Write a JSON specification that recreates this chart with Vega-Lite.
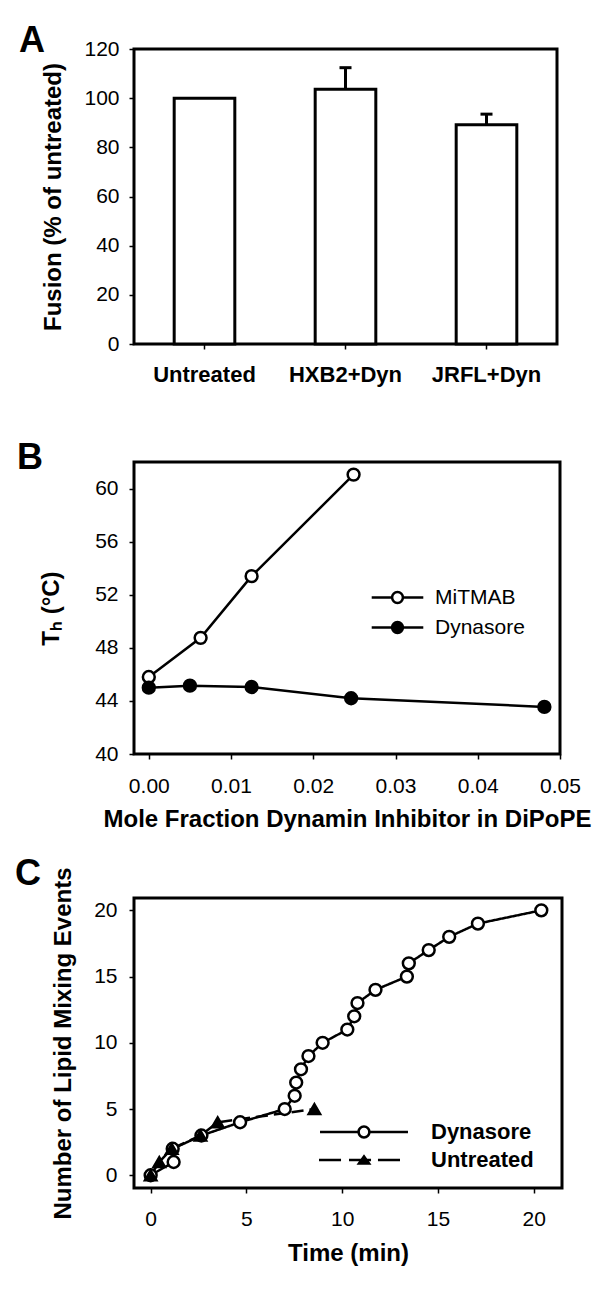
{
  "$schema": "https://vega.github.io/schema/vega-lite/v6.json",
  "background": "white",
  "padding": {"left": 13, "top": 21, "right": 0, "bottom": 0},
  "spacing": 51,
  "resolve": {
    "scale": {"fill": "independent", "shape": "independent", "strokeDash": "independent"},
    "legend": {"fill": "independent", "shape": "independent", "strokeDash": "independent"}
  },
  "config": {
    "font": "Liberation Sans",
    "view": {"stroke": "black", "strokeWidth": 3, "fill": "white"},
    "axis": {
      "domain": false, "grid": false,
      "ticks": true, "tickColor": "black", "tickWidth": 1.5, "tickSize": 5,
      "labelColor": "black", "labelFont": "Liberation Sans", "labelFontSize": 21,
      "labelFlush": false, "labelOverlap": false,
      "titleColor": "black", "titleFont": "Liberation Sans", "titleFontSize": 24, "titleFontWeight": "bold"
    },
    "title": {"font": "Liberation Sans", "fontSize": 36, "fontWeight": "bold", "color": "black", "anchor": "start", "frame": "group", "baseline": "alphabetic"},
    "legend": {"labelColor": "black", "labelFont": "Liberation Sans", "padding": 0}
  },
  "datasets": {
    "fusion": [
      {"condition": "Untreated", "fusion": 100, "upper": null},
      {"condition": "HXB2+Dyn", "fusion": 103.6, "upper": 112.4},
      {"condition": "JRFL+Dyn", "fusion": 89.2, "upper": 93.5}
    ],
    "th": [
      {"series": "MiTMAB", "fraction": 0, "th": 45.8},
      {"series": "MiTMAB", "fraction": 0.0063, "th": 48.75},
      {"series": "MiTMAB", "fraction": 0.0125, "th": 53.4},
      {"series": "MiTMAB", "fraction": 0.0249, "th": 61.05},
      {"series": "Dynasore", "fraction": 0, "th": 45.0},
      {"series": "Dynasore", "fraction": 0.005, "th": 45.15},
      {"series": "Dynasore", "fraction": 0.0125, "th": 45.05},
      {"series": "Dynasore", "fraction": 0.0246, "th": 44.2},
      {"series": "Dynasore", "fraction": 0.0481, "th": 43.55}
    ],
    "lipid": [
      {"series": "Dynasore", "time": 0, "events": 0},
      {"series": "Dynasore", "time": 1.2, "events": 1},
      {"series": "Dynasore", "time": 1.15, "events": 2},
      {"series": "Dynasore", "time": 2.65, "events": 3},
      {"series": "Dynasore", "time": 4.67, "events": 4},
      {"series": "Dynasore", "time": 7.0, "events": 5},
      {"series": "Dynasore", "time": 7.52, "events": 6},
      {"series": "Dynasore", "time": 7.6, "events": 7},
      {"series": "Dynasore", "time": 7.85, "events": 8},
      {"series": "Dynasore", "time": 8.24, "events": 9},
      {"series": "Dynasore", "time": 8.98, "events": 10},
      {"series": "Dynasore", "time": 10.27, "events": 11},
      {"series": "Dynasore", "time": 10.63, "events": 12},
      {"series": "Dynasore", "time": 10.8, "events": 13},
      {"series": "Dynasore", "time": 11.74, "events": 14},
      {"series": "Dynasore", "time": 13.38, "events": 15},
      {"series": "Dynasore", "time": 13.48, "events": 16},
      {"series": "Dynasore", "time": 14.52, "events": 17},
      {"series": "Dynasore", "time": 15.59, "events": 18},
      {"series": "Dynasore", "time": 17.09, "events": 19},
      {"series": "Dynasore", "time": 20.4, "events": 20},
      {"series": "Untreated", "time": 0, "events": 0},
      {"series": "Untreated", "time": 0.45, "events": 1},
      {"series": "Untreated", "time": 1.1, "events": 2},
      {"series": "Untreated", "time": 2.6, "events": 3},
      {"series": "Untreated", "time": 3.5, "events": 4},
      {"series": "Untreated", "time": 8.55, "events": 5}
    ]
  },
  "vconcat": [
    {
      "width": 423, "height": 295,
      "title": {"text": "A", "dx": -115, "offset": -22},
      "data": {"name": "fusion"},
      "encoding": {
        "x": {"field": "condition", "type": "nominal", "sort": null,
          "scale": {"paddingInner": 0.57, "paddingOuter": 0.285},
          "axis": {"title": null, "labelAngle": 0, "labelFontWeight": "bold", "labelFontSize": 22, "labelPadding": 15}},
        "y": {"field": "fusion", "type": "quantitative", "title": "Fusion (%  of untreated)",
          "scale": {"domain": [0, 120], "nice": false},
          "axis": {"values": [0, 20, 40, 60, 80, 100, 120], "labelPadding": 10, "titlePadding": 18}}
      },
      "layer": [
        {"mark": {"type": "bar", "fill": "white", "stroke": "black", "strokeWidth": 3}},
        {"transform": [{"filter": "datum.upper != null"}],
         "mark": {"type": "rule", "stroke": "black", "strokeWidth": 3},
         "encoding": {"y2": {"field": "upper"}}},
        {"transform": [{"filter": "datum.upper != null"}],
         "mark": {"type": "tick", "color": "black", "thickness": 3, "size": 12, "opacity": 1},
         "encoding": {"y": {"field": "upper", "type": "quantitative", "title": "Fusion (%  of untreated)"}}}
      ]
    },
    {
      "spacing": 21,
      "resolve": {
        "scale": {"fill": "independent", "shape": "independent", "strokeDash": "independent"},
        "legend": {"fill": "independent", "shape": "independent", "strokeDash": "independent"}
      },
      "vconcat": [
        {
          "width": 426, "height": 292,
          "title": {"text": "B", "dx": -117, "offset": -15},
          "data": {"name": "th"},
          "encoding": {
            "x": {"field": "fraction", "type": "quantitative",
              "scale": {"domain": [-0.0018, 0.05], "nice": false, "zero": false},
              "axis": {"values": [0, 0.01, 0.02, 0.03, 0.04, 0.05], "format": ".2f", "title": "Mole Fraction Dynamin Inhibitor in DiPoPE", "labelPadding": 16, "titlePadding": 11}},
            "y": {"field": "th", "type": "quantitative",
              "scale": {"domain": [40, 62], "nice": false, "zero": false},
              "axis": {"values": [40, 44, 48, 52, 56, 60], "title": "Tₕ (°C)", "labelPadding": 11, "titlePadding": 31}}
          },
          "layer": [
            {"mark": {"type": "line", "stroke": "black", "strokeWidth": 2.5},
             "encoding": {"detail": {"field": "series"}}},
            {"mark": {"type": "point", "shape": "circle", "filled": true, "size": 140, "stroke": "black", "strokeWidth": 2.5, "opacity": 1},
             "encoding": {"fill": {"field": "series", "type": "nominal",
               "scale": {"domain": ["MiTMAB", "Dynasore"], "range": ["white", "black"]},
               "legend": {"title": null, "orient": "none", "legendX": 253, "legendY": 125,
                 "symbolType": "M-4.3 0L-0.9 0M0.9 0L4.3 0M0.9 0A0.9 0.9 0 1 1 -0.9 0A0.9 0.9 0 1 1 0.9 0Z",
                 "symbolSize": 144, "symbolStrokeColor": "black", "symbolStrokeWidth": 2.5,
                 "labelFontSize": 21, "labelOffset": 27, "rowPadding": 8}}}}
          ]
        },
        {
          "width": 428, "height": 290,
          "title": {"text": "C", "dx": -119, "offset": -26},
          "data": {"name": "lipid"},
          "resolve": {
            "scale": {"fill": "independent", "shape": "independent", "strokeDash": "independent"},
            "legend": {"fill": "independent", "shape": "independent", "strokeDash": "independent"}
          },
          "encoding": {
            "x": {"field": "time", "type": "quantitative",
              "scale": {"domain": [-0.87, 21.48], "nice": false, "zero": false},
              "axis": {"values": [0, 5, 10, 15, 20], "title": "Time (min)", "labelPadding": 15, "titlePadding": 12}},
            "y": {"field": "events", "type": "quantitative",
              "scale": {"domain": [-0.96, 20.93], "nice": false, "zero": false},
              "axis": {"values": [0, 5, 10, 15, 20], "title": "Number of Lipid Mixing Events", "labelPadding": 12, "titlePadding": 18}}
          },
          "layer": [
            {"mark": {"type": "line", "stroke": "black", "strokeWidth": 2.5},
             "encoding": {
               "strokeDash": {"field": "series", "type": "nominal", "scale": {"domain": ["Dynasore", "Untreated"], "range": [[1, 0], [12, 6]]}, "legend": null},
               "order": {"field": "events", "type": "quantitative"}}},
            {"transform": [{"filter": "datum.series == 'Dynasore'"}],
             "mark": {"type": "point", "shape": "circle", "filled": true, "fill": "white", "size": 140, "stroke": "black", "strokeWidth": 2.5, "opacity": 1}},
            {"transform": [{"filter": "datum.series == 'Untreated'"}],
             "mark": {"type": "point", "shape": "triangle-up", "filled": true, "fill": "black", "size": 150, "stroke": "black", "strokeWidth": 2, "opacity": 1}},
            {"transform": [{"filter": "false"}],
             "mark": {"type": "point", "filled": true, "color": "black", "opacity": 1},
             "encoding": {
               "shape": {"field": "series", "type": "nominal",
                 "scale": {"domain": ["Dynasore", "Untreated"], "range": [
                   "M-7.33 -0.21L-1.05 -0.21L-1.05 0.21L-7.33 0.21Z M1.05 -0.21L7.33 -0.21L7.33 0.21L1.05 0.21Z M1.11 0A1.11 1.11 0 1 1 -1.11 0A1.11 1.11 0 1 1 1.11 0Z M0.69 0A0.69 0.69 0 1 0 -0.69 0A0.69 0.69 0 1 0 0.69 0Z",
                   "M-7.5 -0.21L-3.83 -0.21L-3.83 0.21L-7.5 0.21Z M-2.5 -0.21L1.17 -0.21L1.17 0.21L-2.5 0.21Z M2.33 -0.21L6 -0.21L6 0.21L2.33 0.21Z M0 -0.95L1.25 0.78L-1.25 0.78Z"]},
                 "legend": {"title": null, "orient": "none", "legendX": 219, "legendY": 223,
                   "symbolSize": 144, "symbolFillColor": "black", "symbolStrokeWidth": 0,
                   "labelFontSize": 22, "labelFontWeight": "bold", "labelOffset": 56, "rowPadding": 6}}
             }}
          ]
        }
      ]
    }
  ]
}
